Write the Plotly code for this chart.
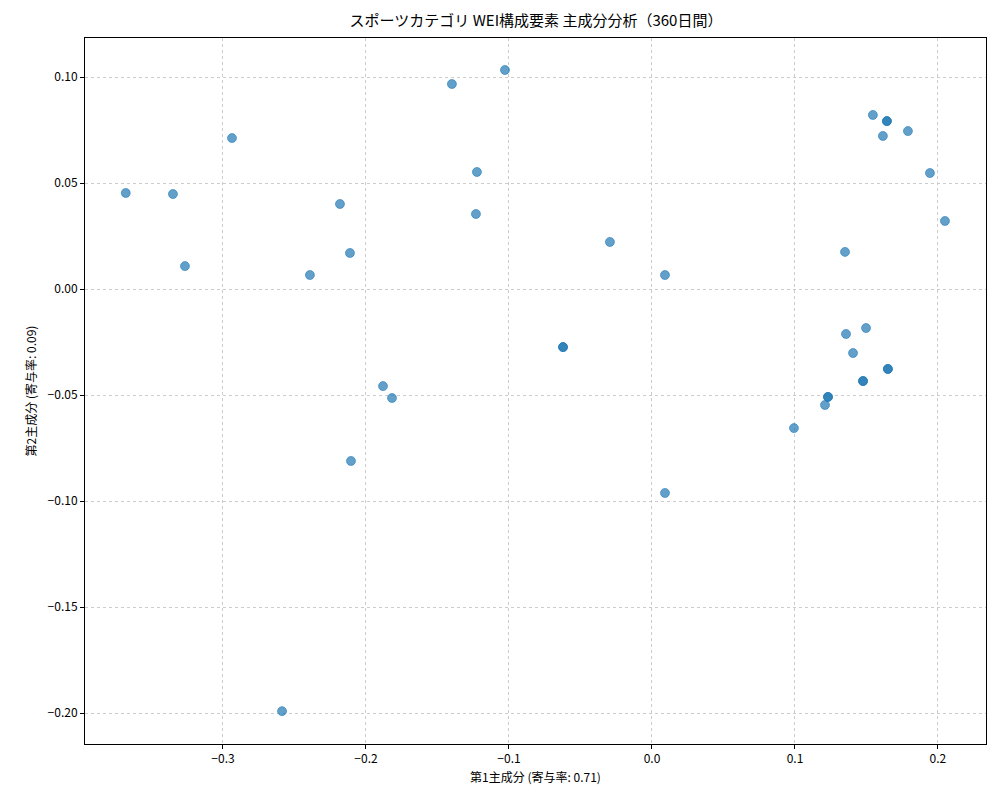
import plotly.graph_objects as go

pc1 = [-0.368, -0.335, -0.3266, -0.2937, -0.2587, -0.2392, -0.2182, -0.2112, -0.2105, -0.1881,
       -0.1818, -0.1399, -0.1224, -0.1231, -0.1028, -0.0622, -0.0622, -0.0294, 0.0091, 0.0091,
       0.0993, 0.121, 0.1231, 0.1231, 0.135, 0.1357, 0.1406, 0.1497, 0.1476, 0.1476,
       0.1545, 0.1615, 0.1643, 0.1643, 0.165, 0.165, 0.179, 0.1944, 0.2049]
pc2 = [0.0453, 0.0448, 0.0108, 0.0712, -0.1991, 0.0066, 0.0401, 0.0170, -0.0811, -0.0458,
       -0.0514, 0.0967, 0.0552, 0.0354, 0.1033, -0.0274, -0.0274, 0.0222, 0.0066, -0.0962,
       -0.0656, -0.0547, -0.0509, -0.0509, 0.0175, -0.0212, -0.0302, -0.0184, -0.0434, -0.0434,
       0.0821, 0.0722, 0.0792, 0.0792, -0.0377, -0.0377, 0.0745, 0.0547, 0.0321]

font = "Noto Sans CJK JP"
fig = go.Figure(go.Scatter(x=pc1, y=pc2, mode="markers",
                           marker=dict(color="rgba(31,119,180,0.7)", size=9,
                                       line=dict(width=0.8, color="rgba(31,119,180,0.7)"))))
ax = dict(showline=True, linecolor="black", linewidth=1, mirror=True, ticks="outside",
          ticklen=4, tickcolor="black", showgrid=True, gridcolor="#cccccc", griddash="dot",
          gridwidth=1, zeroline=False, tickfont=dict(size=12, color="black"), automargin=False)
fig.update_layout(
    width=1000, height=800, plot_bgcolor="white", paper_bgcolor="white",
    margin=dict(l=77, r=22, t=30, b=64),
    font=dict(family=font, color="black"),
    title=dict(text="スポーツカテゴリ WEI構成要素 主成分分析（360日間）", x=0.528, xanchor="center",
               y=0.984, yanchor="middle", font=dict(size=15)),
    xaxis=dict(ax, range=[-0.3965, 0.2336], tickvals=[-0.3, -0.2, -0.1, 0, 0.1, 0.2],
               ticktext=["−0.3", "−0.2", "−0.1", "0.0", "0.1", "0.2"],
               title=dict(text="第1主成分 (寄与率: 0.71)", font=dict(size=12), standoff=8)),
    yaxis=dict(ax, range=[-0.2146, 0.1184],
               tickvals=[-0.2, -0.15, -0.1, -0.05, 0, 0.05, 0.1],
               ticktext=["−0.20", "−0.15", "−0.10", "−0.05", "0.00", "0.05", "0.10"],
               title=dict(text="第2主成分 (寄与率: 0.09)", font=dict(size=12), standoff=8)),
    showlegend=False,
)
fig.write_html("out.html")
